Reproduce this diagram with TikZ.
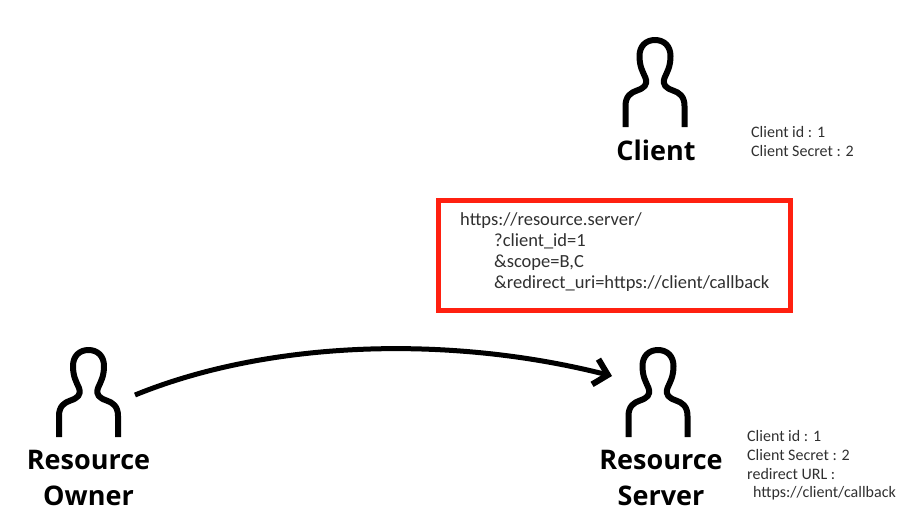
\documentclass[tikz,border=0pt]{standalone}
\usepackage{fontspec}
\setmainfont{Carlito}
\newfontfamily\labelfont{Open Sans}
\usetikzlibrary{arrows.meta,positioning}
\definecolor{boxred}{HTML}{FF2010}
\definecolor{notegray}{HTML}{303030}
\tikzset{
  personline/.style={draw=black,line width=6pt,line cap=butt,line join=round},
  person/.pic={
    \draw[personline] (-29.5,90) -- (-29.5,69)
      .. controls (-29.5,59) and (-24,55.5) .. (-18,53.5)
      .. controls (-11,51) and (-7,48) .. (-9.5,41)
      .. controls (-12,35) and (-15.5,30) .. (-15.5,19)
      .. controls (-15.5,9) and (-9,3) .. (0,3)
      .. controls (9,3) and (15.5,9) .. (15.5,19)
      .. controls (15.5,30) and (12,35) .. (9.5,41)
      .. controls (7,48) and (11,51) .. (18,53.5)
      .. controls (24,55.5) and (29.5,59) .. (29.5,69)
      -- (29.5,90);
  },
  rolename/.style={font=\labelfont\bfseries\fontsize{27}{36}\selectfont,align=center,text=black,inner sep=0pt},
  notetext/.style={font=\fontsize{16}{18.7}\selectfont,align=left,anchor=west,text=notegray,inner sep=0pt},
  requestbox/.style={draw=boxred,line width=5pt,minimum width=352pt,minimum height=109.5pt,inner sep=0pt},
  flowarrow/.style={draw=black,line width=5pt,-{Straight Barb[length=13pt,width=26pt,line width=6pt]}}
}
\begin{document}
\begin{tikzpicture}[x=1pt,y=-1pt]
\useasboundingbox (0,0) rectangle (905,525);

% Client
\pic at (655,37) {person};
\node[rolename] (clientname) at (656,150) {Client};
\node[notetext] (clientnote) at (751,141.5) {Client id : 1\\Client Secret : 2};

% request
\node[requestbox] (request) at (614.5,255.25) {};
\node[font=\fontsize{18.5}{21}\selectfont,align=left,anchor=west,text=notegray,inner sep=0pt] (requesttext) at (460,252.5)
  {https://resource.server/\\
   \hspace*{34pt}?client\_id=1\\
   \hspace*{34pt}\&scope=B,C\\
   \hspace*{34pt}\&redirect\_uri=https://client/callback};

% Resource Owner
\pic at (88.5,347) {person};
\node[rolename] (ownername) at (88.5,478) {Resource\\Owner};

% Resource Server
\pic at (658,347) {person};
\node[rolename] (servername) at (661,478) {Resource\\Server};
\node[notetext] (servernote) at (747,465.5) {Client id : 1\\Client Secret : 2\\redirect URL :\\\hspace*{6pt}https://client/callback};

% flow
\coordinate (ownerout) at (135,395);
\coordinate (serverin) at (612,376);
\draw[flowarrow] (ownerout) .. controls (270,340) and (450,335) .. (serverin);
\end{tikzpicture}
\end{document}
